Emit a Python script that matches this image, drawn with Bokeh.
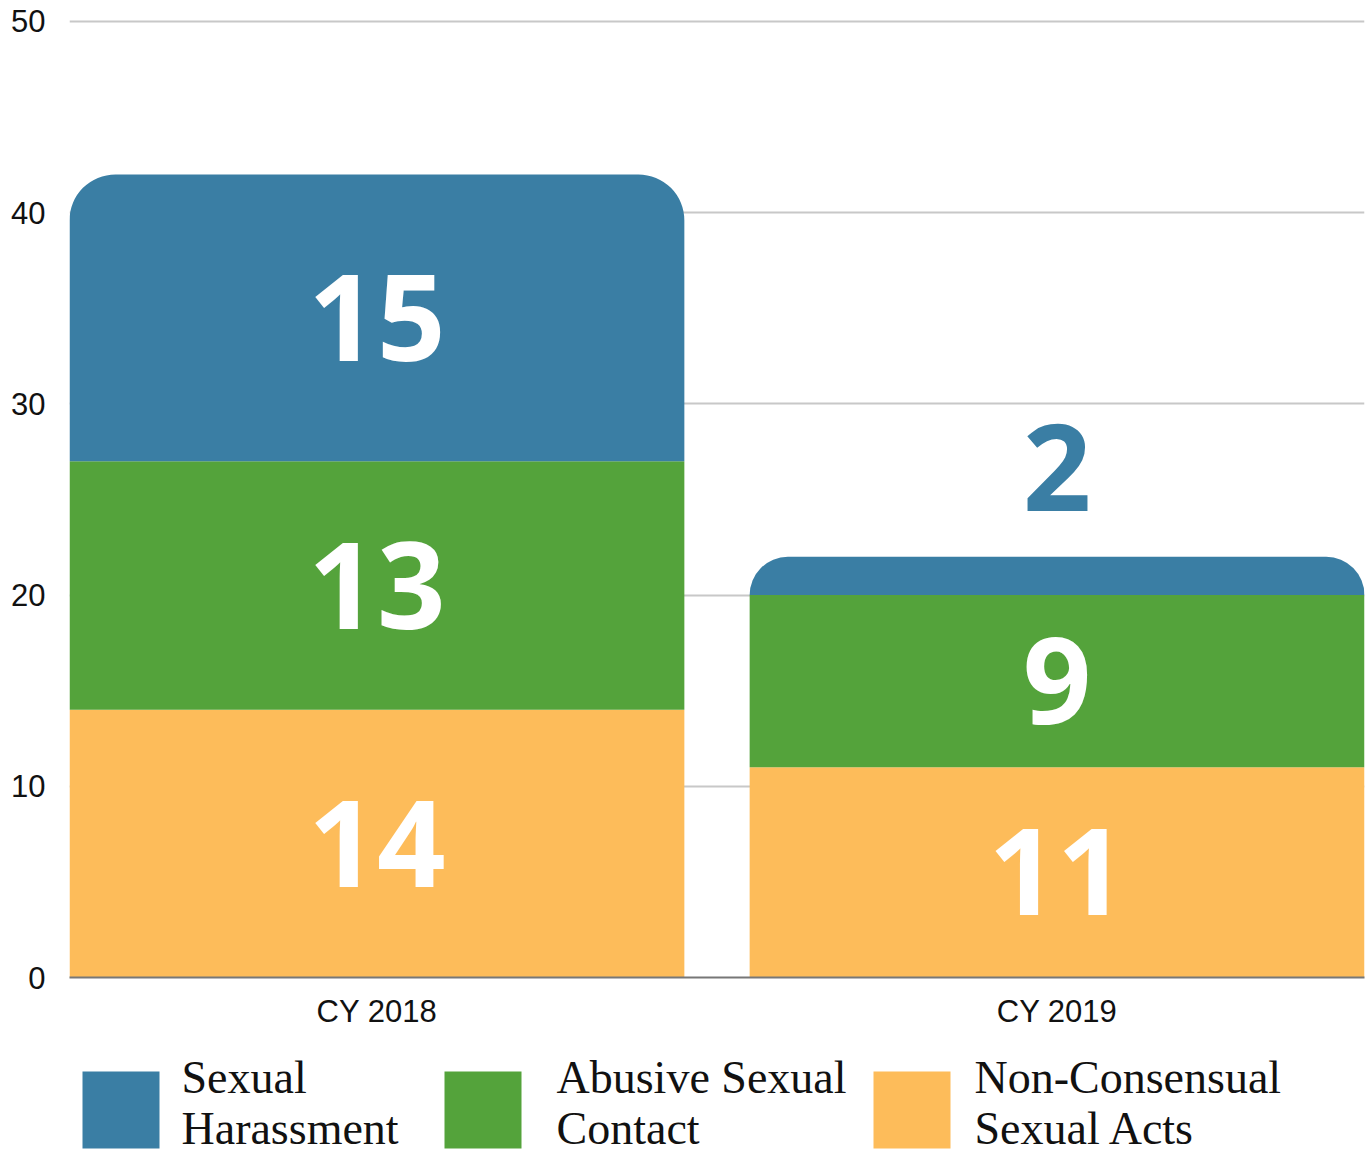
from bokeh.plotting import figure
from bokeh.layouts import column
from bokeh.models import ColumnDataSource, FactorRange, FixedTicker, LabelSet
from bokeh.core.properties import value
from bokeh.embed import file_html
from bokeh.resources import INLINE

years = ["CY 2018", "CY 2019"]
non_consensual = [14, 11]
abusive_contact = [13, 9]
harassment = [15, 2]
series_names = ["Sexual\nHarassment", "Abusive Sexual\nContact", "Non-Consensual\nSexual Acts"]
y_ticks = [0, 10, 20, 30, 40, 50]

BLUE = "#3a7ea4"
GREEN = "#54a33b"
ORANGE = "#fdbc5a"
series_colors = [BLUE, GREEN, ORANGE]

b1 = [0, 0]
t1 = [b1[i] + non_consensual[i] for i in range(2)]
t2 = [t1[i] + abusive_contact[i] for i in range(2)]
t3 = [t2[i] + harassment[i] for i in range(2)]

BAR_W = 0.904
p = figure(x_range=FactorRange(factors=years, range_padding=-(1 - BAR_W) / 2, range_padding_units="absolute"),
           y_range=(0, 50.1),
           frame_width=1295, frame_height=958,
           min_border_left=69, min_border_top=19, min_border_right=3, min_border_bottom=60,
           output_backend="svg", toolbar_location=None, outline_line_color=None)

src = ColumnDataSource(dict(x=years, b1=b1, t1=t1, t2=t2, t3=t3))
r_acts = p.vbar(x="x", bottom="b1", top="t1", width=BAR_W, source=src, fill_color=ORANGE, line_color=None)
r_cont = p.vbar(x="x", bottom="t1", top="t2", width=BAR_W, source=src, fill_color=GREEN, line_color=None)
r_har = p.vbar(x="x", bottom="t2", top="t3", width=BAR_W, source=src, fill_color=BLUE, line_color=None,
               border_radius=(46, 46, 0, 0))

# value labels
inside = dict(x=[], y=[], t=[])
outside = dict(x=[], y=[], t=[])
for vals, bot in ((non_consensual, b1), (abusive_contact, t1), (harassment, t2)):
    for i in range(2):
        d = inside if vals[i] >= 4 else outside
        d["x"].append(years[i])
        d["y"].append(bot[i] + vals[i] / 2 if vals[i] >= 4 else bot[i] + vals[i])
        d["t"].append(str(vals[i]))

p.add_layout(LabelSet(x="x", y="y", text="t", source=ColumnDataSource(inside),
                      text_font=value("Open Sans"), text_font_style="bold",
                      text_font_size="120px", text_color="white",
                      text_align="center", text_baseline="middle"))
p.add_layout(LabelSet(x="x", y="y", text="t", source=ColumnDataSource(outside),
                      text_font=value("Open Sans"), text_font_style="bold",
                      text_font_size="120px", text_color=BLUE,
                      text_align="center", text_baseline="bottom", y_offset=46))

p.yaxis.ticker = FixedTicker(ticks=y_ticks)
p.yaxis.axis_line_color = None
p.yaxis.major_tick_line_color = None
p.yaxis.minor_tick_line_color = None
p.yaxis.major_tick_out = 0
p.yaxis.major_label_standoff = 24
p.yaxis.major_label_text_font = "Liberation Sans"
p.yaxis.major_label_text_font_size = "31px"
p.yaxis.major_label_text_color = "#111111"

p.xaxis.axis_line_color = "#777777"
p.xaxis.axis_line_width = 2
p.xaxis.major_tick_line_color = None
p.xaxis.major_tick_out = 0
p.xaxis.major_label_standoff = 16
p.xaxis.major_label_text_font = "Liberation Sans"
p.xaxis.major_label_text_font_size = "31px"
p.xaxis.major_label_text_color = "#111111"

p.xgrid.grid_line_color = None
p.ygrid.grid_line_color = "#c8c8c8"
p.ygrid.grid_line_width = 2

# legend strip (page-pixel coordinates; its frame aligns with the chart frame)
LEG_H = 116
leg = figure(width=1367, height=LEG_H, x_range=(69, 1364), y_range=(0, LEG_H),
             min_border_left=69, min_border_right=3, min_border_top=0, min_border_bottom=0,
             output_backend="svg", toolbar_location=None, outline_line_color=None)
leg.axis.visible = False
leg.grid.visible = False
sq_left = [82, 444, 873]
txt_left = [181, 556, 974]
SQ = 77
leg.rect(x=[s + SQ / 2 for s in sq_left], y=[43.5] * 3, width=SQ, height=SQ,
         fill_color=series_colors, line_color=None)
leg.text(x=txt_left, y=[51] * 3, text=series_names, text_font=value("Liberation Serif"),
         text_font_size="46px", text_color="#111111", text_baseline="middle",
         text_align="left", text_line_height=1.0)

open("out.html", "w").write(file_html(column(p, leg, spacing=0), INLINE))
